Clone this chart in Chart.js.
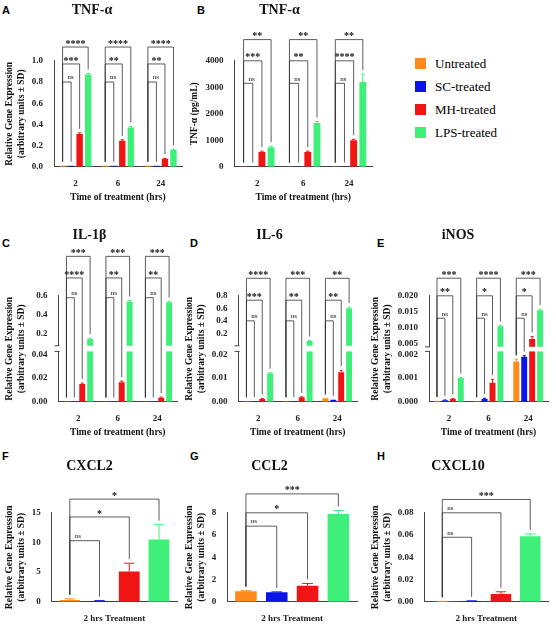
<!DOCTYPE html>
<html><head><meta charset="utf-8">
<script src="https://cdn.jsdelivr.net/npm/chart.js@4.4.1/dist/chart.umd.min.js"></script>
<style>
body{margin:0;background:#fff;width:556px;height:640px;position:relative;overflow:hidden}
canvas{position:absolute}
.lt{position:absolute;font:bold 11px Arial,sans-serif}
#legend{position:absolute;left:415px;top:52px;font:13px "Liberation Serif",serif}
#legend div{height:23px;display:flex;align-items:center}
#legend span{display:inline-block;width:11px;height:11px;margin-right:9px}
</style></head><body>
<div class="lt" style="left:2px;top:4px">A</div>
<div class="lt" style="left:197px;top:4px">B</div>
<div class="lt" style="left:2px;top:237px">C</div>
<div class="lt" style="left:190px;top:237px">D</div>
<div class="lt" style="left:377px;top:237px">E</div>
<div class="lt" style="left:2px;top:450px">F</div>
<div class="lt" style="left:190px;top:450px">G</div>
<div class="lt" style="left:377px;top:450px">H</div>
<div id="legend"></div>
<canvas id="cA" width="190" height="205" style="left:0;top:0"></canvas>
<canvas id="cB" width="195" height="205" style="left:185px;top:0"></canvas>
<canvas id="cC" width="185" height="225" style="left:0;top:215px"></canvas>
<canvas id="cD" width="185" height="225" style="left:180px;top:215px"></canvas>
<canvas id="cE" width="190" height="225" style="left:366px;top:215px"></canvas>
<canvas id="cF" width="185" height="200" style="left:0;top:440px"></canvas>
<canvas id="cG" width="185" height="200" style="left:180px;top:440px"></canvas>
<canvas id="cH" width="190" height="200" style="left:366px;top:440px"></canvas>
<script>
const seriesNames = ['Untreated', 'SC-treated', 'MH-treated', 'LPS-treated'];
const seriesColors = ['#ff8c1a', '#0a14e6', '#f01414', '#3ef07a'];
const timeLabels = ['2', '6', '24'];

// TNF-a gene expression (rows = series, cols = 2/6/24 h)
const tnfGene = [[0.01, 0.01, 0.01], [0.01, 0.01, 0.01], [0.31, 0.245, 0.075], [0.87, 0.37, 0.16]];
const tnfGeneErr = [[0, 0, 0], [0, 0, 0], [0.01, 0.01, 0.005], [0.01, 0.01, 0.005]];
const tnfGeneSig = [['ns', '***', '****'], ['ns', '**', '****'], ['ns', '**', '****']];
const tnfGeneBr = [0.8, 0.97, 1.13];

const tnfProt = [[10, 10, 10], [10, 10, 10], [560, 560, 1000], [740, 1650, 3200]];
const tnfProtErr = [[0, 0, 0], [0, 0, 0], [30, 30, 40], [40, 60, 300]];
const tnfProtSig = [['ns', '***', '**'], ['ns', '**', '**'], ['ns', '****', '**']];
const tnfProtBr = [3150, 4000, 4800];

const il1b = [[0.0003, 0.0003, 0.0003], [0.0003, 0.0003, 0.0003], [0.015, 0.0165, 0.0035], [0.14, 0.54, 0.53]];
const il1bErr = [[0, 0, 0], [0, 0, 0], [0.0008, 0.001, 0.0005], [0.01, 0.01, 0.01]];
const il1bSig = [['ns', '****', '***'], ['ns', '**', '***'], ['ns', '**', '***']];
const il1bBr = [0.58, 0.79, 1.02];

const il6 = [[0.0002, 0.0002, 0.0015], [0.0003, 0.0003, 0.0009], [0.0012, 0.0019, 0.0125], [0.012, 0.08, 0.6]];
const il6Err = [[0, 0, 0], [0, 0, 0], [0.0002, 0.0002, 0.0008], [0.0003, 0.005, 0.02]];
const il6Sig = [['ns', '***', '****'], ['ns', '**', '***'], ['ns', '**', '**']];
const il6Br = [0.4, 0.73, 1.08];

const inos = [[0.00003, 0.00002, 0.0017], [0.00007, 0.00013, 0.0019], [0.00012, 0.0008, 0.0065], [0.001, 0.0105, 0.0155]];
const inosErr = [[0, 0, 0.0001], [0.00001, 0.00002, 0.00005], [0.00002, 0.00015, 0.0008], [0.00002, 0.0002, 0.0003]];
const inosSig = [['ns', '**', '***'], ['ns', '*', '****'], ['ns', '*', '***']];
const inosBr = [0.013, 0.02, 0.0255];

const cxcl2 = [0.3, 0.15, 5.1, 10.5];
const cxcl2Err = [0.2, 0.05, 1.4, 2.5];
const cxcl2Sig = ['ns', '*', '*'];
const cxcl2Br = [10.3, 14.3, 17.3];

const ccl2 = [0.95, 0.85, 1.45, 7.9];
const ccl2Err = [0.05, 0.04, 0.2, 0.3];
const ccl2Sig = ['ns', '*', '***'];
const ccl2Br = [6.8, 8.0, 9.7];

const cxcl10 = [0.0003, 0.0008, 0.007, 0.059];
const cxcl10Err = [0.0001, 0.0001, 0.002, 0.002];
const cxcl10Sig = ['ns', 'ns', '***'];
const cxcl10Br = [0.058, 0.08, 0.092];

const serif = '"Liberation Serif", "DejaVu Serif", serif';

document.getElementById('legend').innerHTML = seriesNames.map((n, i) =>
    `<div><span style="background:${seriesColors[i]}"></span>${n}</div>`).join('');

// y axis with a break: lower part [0, lowMax], upper part [highMin, max]
class BrokenScale extends Chart.LinearScale {
    buildTicks() {
        return this.options.tickValues.map(v => ({ value: v }));
    }
    getPixelForValue(v) {
        const o = this.options;
        const h = this.bottom - this.top;
        const lowH = h * o.lowFrac, gap = h * o.gapFrac, upH = h - lowH - gap;
        if (v <= o.lowMax) return this.bottom - v / o.lowMax * lowH;
        if (v < o.highMin) return this.bottom - lowH - (v - o.lowMax) / (o.highMin - o.lowMax) * gap;
        return this.bottom - lowH - gap - (v - o.highMin) / (this.max - o.highMin) * upH;
    }
}
BrokenScale.id = 'broken';
BrokenScale.defaults = Chart.LinearScale.defaults;
Chart.register(BrokenScale);

const extras = {
    id: 'extras',
    afterDatasetsDraw(chart) {
        const ctx = chart.ctx, y = chart.scales.y, o = chart.options.plugins.extras;
        if (!o) return;
        ctx.save();
        // gap of broken axis
        if (y.options.lowFrac) {
            const p1 = y.getPixelForValue(y.options.lowMax) - 3, p2 = y.getPixelForValue(y.options.highMin) + 3;
            ctx.fillStyle = '#fff';
            ctx.fillRect(y.right - 3, p2, chart.chartArea.right - y.right + 3, p1 - p2);
            ctx.strokeStyle = '#444'; ctx.lineWidth = 1;
            [p1, p2].forEach(p => { ctx.beginPath(); ctx.moveTo(y.right - 4, p); ctx.lineTo(y.right + 1, p); ctx.stroke(); });
        }
        // error bars
        const tops = [];
        chart.data.datasets.forEach((ds, di) => {
            tops[di] = [];
            chart.getDatasetMeta(di).data.forEach((el, gi) => {
                const e = ds.err[gi];
                const t = y.getPixelForValue(ds.data[gi] + e);
                tops[di][gi] = Math.min(t, el.y);
                if (!e) return;
                ctx.strokeStyle = ds.backgroundColor; ctx.lineWidth = 1;
                ctx.beginPath();
                ctx.moveTo(el.x, el.y); ctx.lineTo(el.x, t);
                ctx.moveTo(el.x - el.width / 4, t); ctx.lineTo(el.x + el.width / 4, t);
                ctx.stroke();
            });
        });
        // significance brackets
        ctx.strokeStyle = '#333'; ctx.fillStyle = '#111'; ctx.lineWidth = 0.8;
        ctx.textAlign = 'center'; ctx.textBaseline = 'bottom';
        o.brackets.forEach(b => {
            const e0 = chart.getDatasetMeta(b.a).data[b.g], e1 = chart.getDatasetMeta(b.b).data[b.g];
            const py = y.getPixelForValue(b.y);
            ctx.beginPath();
            ctx.moveTo(e0.x, tops[b.a][b.g] - 4); ctx.lineTo(e0.x, py);
            ctx.lineTo(e1.x, py); ctx.lineTo(e1.x, tops[b.b][b.g] - 4);
            ctx.stroke();
            ctx.font = b.t === 'ns' ? '7px ' + serif : 'bold 10px ' + serif;
            ctx.fillText(b.t, b.t === 'ns' ? e0.x + 8 : (e0.x + e1.x) / 2, py + (b.t === 'ns' ? -1 : 2));
        });
        ctx.restore();
    }
};

function makeChart(id, cfg) {
    const groups = cfg.labels.length;
    const brackets = [];
    for (let g = 0; g < groups; g++)
        cfg.brY.forEach((yv, k) => brackets.push({ g, a: 0, b: k + 1, y: yv, t: cfg.sig[g][k] }));
    const yScale = Object.assign({
        type: 'linear', min: 0, max: cfg.max,
        border: { color: '#444' }, grid: { display: false },
        ticks: { font: { family: serif, size: 9, weight: 'bold' }, color: '#222', stepSize: cfg.step, callback: cfg.fmt },
        title: { display: true, text: cfg.yTitle, font: { family: serif, size: 9.5, weight: 'bold' }, color: '#111', padding: 2 }
    }, cfg.yExtra || {});
    return new Chart(document.getElementById(id), {
        type: 'bar',
        data: {
            labels: cfg.labels,
            datasets: seriesNames.map((n, i) => ({
                label: n, data: cfg.values[i], err: cfg.errs[i],
                backgroundColor: seriesColors[i],
                barPercentage: cfg.barPct, categoryPercentage: cfg.catPct
            }))
        },
        options: {
            responsive: false, animation: false,
            layout: { padding: { left: 2, right: 8, bottom: 2 } },
            plugins: {
                legend: { display: false }, tooltip: { enabled: false },
                title: { display: true, text: cfg.title, color: '#111', font: { family: serif, size: 14, weight: 'bold' }, padding: { top: cfg.titleTop, bottom: cfg.titlePad } },
                extras: { brackets }
            },
            scales: {
                x: {
                    grid: { display: false }, border: { color: '#444' },
                    ticks: { font: { family: serif, size: 9, weight: 'bold' }, color: '#222' },
                    title: { display: true, text: cfg.xTitle, font: { family: serif, size: 9.5, weight: cfg.xBold ? 'bold' : 'normal' }, color: '#111', padding: 0 }
                },
                y: yScale
            }
        },
        plugins: [extras]
    });
}

const geneTitle = ['Relative Gene Expression', '(arbitrary units ± SD)'];
const timeTitle = 'Time of treatment (hrs)';
const one = a => [a];

makeChart('cA', { title: 'TNF-α', labels: timeLabels, values: tnfGene, errs: tnfGeneErr, sig: tnfGeneSig, brY: tnfGeneBr,
    max: 1, step: 0.2, fmt: v => v.toFixed(1), yTitle: geneTitle, xTitle: timeTitle, xBold: true, titleTop: 2, titlePad: 42, barPct: 0.75, catPct: 0.8 });
makeChart('cB', { title: 'TNF-α', labels: timeLabels, values: tnfProt, errs: tnfProtErr, sig: tnfProtSig, brY: tnfProtBr,
    max: 4000, step: 1000, fmt: v => v, yTitle: 'TNF-α (pg/mL)', xTitle: timeTitle, xBold: true, titleTop: 2, titlePad: 42, barPct: 0.75, catPct: 0.8 });
makeChart('cC', { title: 'IL-1β', labels: timeLabels, values: il1b, errs: il1bErr, sig: il1bSig, brY: il1bBr,
    max: 0.6, fmt: v => v.toFixed(2).replace(/^0\.([2-6])0$/, '0.$1'), yTitle: geneTitle, xTitle: timeTitle, xBold: true, titleTop: 12, titlePad: 52, barPct: 0.75, catPct: 0.8,
    yExtra: { type: 'broken', tickValues: [0, 0.02, 0.04, 0.2, 0.4, 0.6], lowMax: 0.04, highMin: 0.1, lowFrac: 0.447, gapFrac: 0.11 } });
makeChart('cD', { title: 'IL-6', labels: timeLabels, values: il6, errs: il6Err, sig: il6Sig, brY: il6Br,
    max: 0.8, fmt: v => v >= 0.1 ? v.toFixed(1) : v.toFixed(2), yTitle: geneTitle, xTitle: timeTitle, xBold: true, titleTop: 12, titlePad: 52, barPct: 0.75, catPct: 0.8,
    yExtra: { type: 'broken', tickValues: [0, 0.01, 0.02, 0.2, 0.4, 0.6, 0.8], lowMax: 0.02, highMin: 0.05, lowFrac: 0.447, gapFrac: 0.11 } });
makeChart('cE', { title: 'iNOS', labels: timeLabels, values: inos, errs: inosErr, sig: inosSig, brY: inosBr,
    max: 0.02, fmt: v => v.toFixed(3), yTitle: geneTitle, xTitle: timeTitle, xBold: true, titleTop: 12, titlePad: 52, barPct: 0.75, catPct: 0.8,
    yExtra: { type: 'broken', tickValues: [0, 0.001, 0.002, 0.005, 0.01, 0.015, 0.02], lowMax: 0.002, highMin: 0.005, lowFrac: 0.447, gapFrac: 0.1 } });
makeChart('cF', { title: 'CXCL2', labels: ['2 hrs Treatment'], values: cxcl2.map(one), errs: cxcl2Err.map(one), sig: [cxcl2Sig], brY: cxcl2Br,
    max: 15, step: 5, fmt: v => v, yTitle: geneTitle, xTitle: '', titleTop: 18, titlePad: 38, barPct: 0.7, catPct: 0.95 });
makeChart('cG', { title: 'CCL2', labels: ['2 hrs Treatment'], values: ccl2.map(one), errs: ccl2Err.map(one), sig: [ccl2Sig], brY: ccl2Br,
    max: 8, step: 2, fmt: v => v, yTitle: geneTitle, xTitle: '', titleTop: 18, titlePad: 38, barPct: 0.7, catPct: 0.95 });
makeChart('cH', { title: 'CXCL10', labels: ['2 hrs Treatment'], values: cxcl10.map(one), errs: cxcl10Err.map(one), sig: [cxcl10Sig], brY: cxcl10Br,
    max: 0.08, step: 0.02, fmt: v => v.toFixed(2), yTitle: geneTitle, xTitle: '', titleTop: 18, titlePad: 38, barPct: 0.7, catPct: 0.95 });
</script>
</body></html>
